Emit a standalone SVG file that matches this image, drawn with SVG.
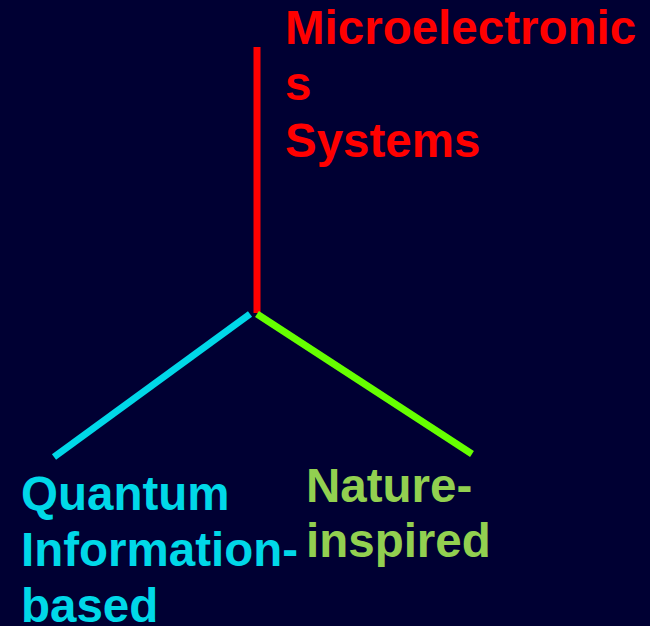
<svg xmlns="http://www.w3.org/2000/svg" width="650" height="626" viewBox="0 0 650 626">
<style>
.t{font-family:"Liberation Sans",Arial,sans-serif;font-weight:bold;font-size:47.5px}
.ln{stroke-width:7;fill:none}
</style>
<rect width="650" height="626" fill="#000033"/>
<g id="connectors">
<line class="ln" x1="257" y1="47" x2="257" y2="313" stroke="#FF0000"/>
<line class="ln" x1="250" y1="314" x2="54" y2="457" stroke="#00D8E8"/>
<line class="ln" x1="257" y1="314" x2="472" y2="454" stroke="#66FF00"/>
</g>
<g id="microelectronics">
<text class="t" fill="#FF0000" x="285" y="44">Microelectronic</text>
<text class="t" fill="#FF0000" x="285" y="100">s</text>
<text class="t" fill="#FF0000" x="285" y="157">Systems</text>
</g>
<g id="quantum">
<text class="t" fill="#00D8E8" x="21" y="510">Quantum</text>
<text class="t" fill="#00D8E8" x="21" y="566">Information-</text>
<text class="t" fill="#00D8E8" x="21" y="622">based</text>
</g>
<g id="nature">
<text class="t" fill="#92D050" x="306" y="502">Nature-</text>
<text class="t" fill="#92D050" x="306" y="557">inspired</text>
</g>
</svg>
